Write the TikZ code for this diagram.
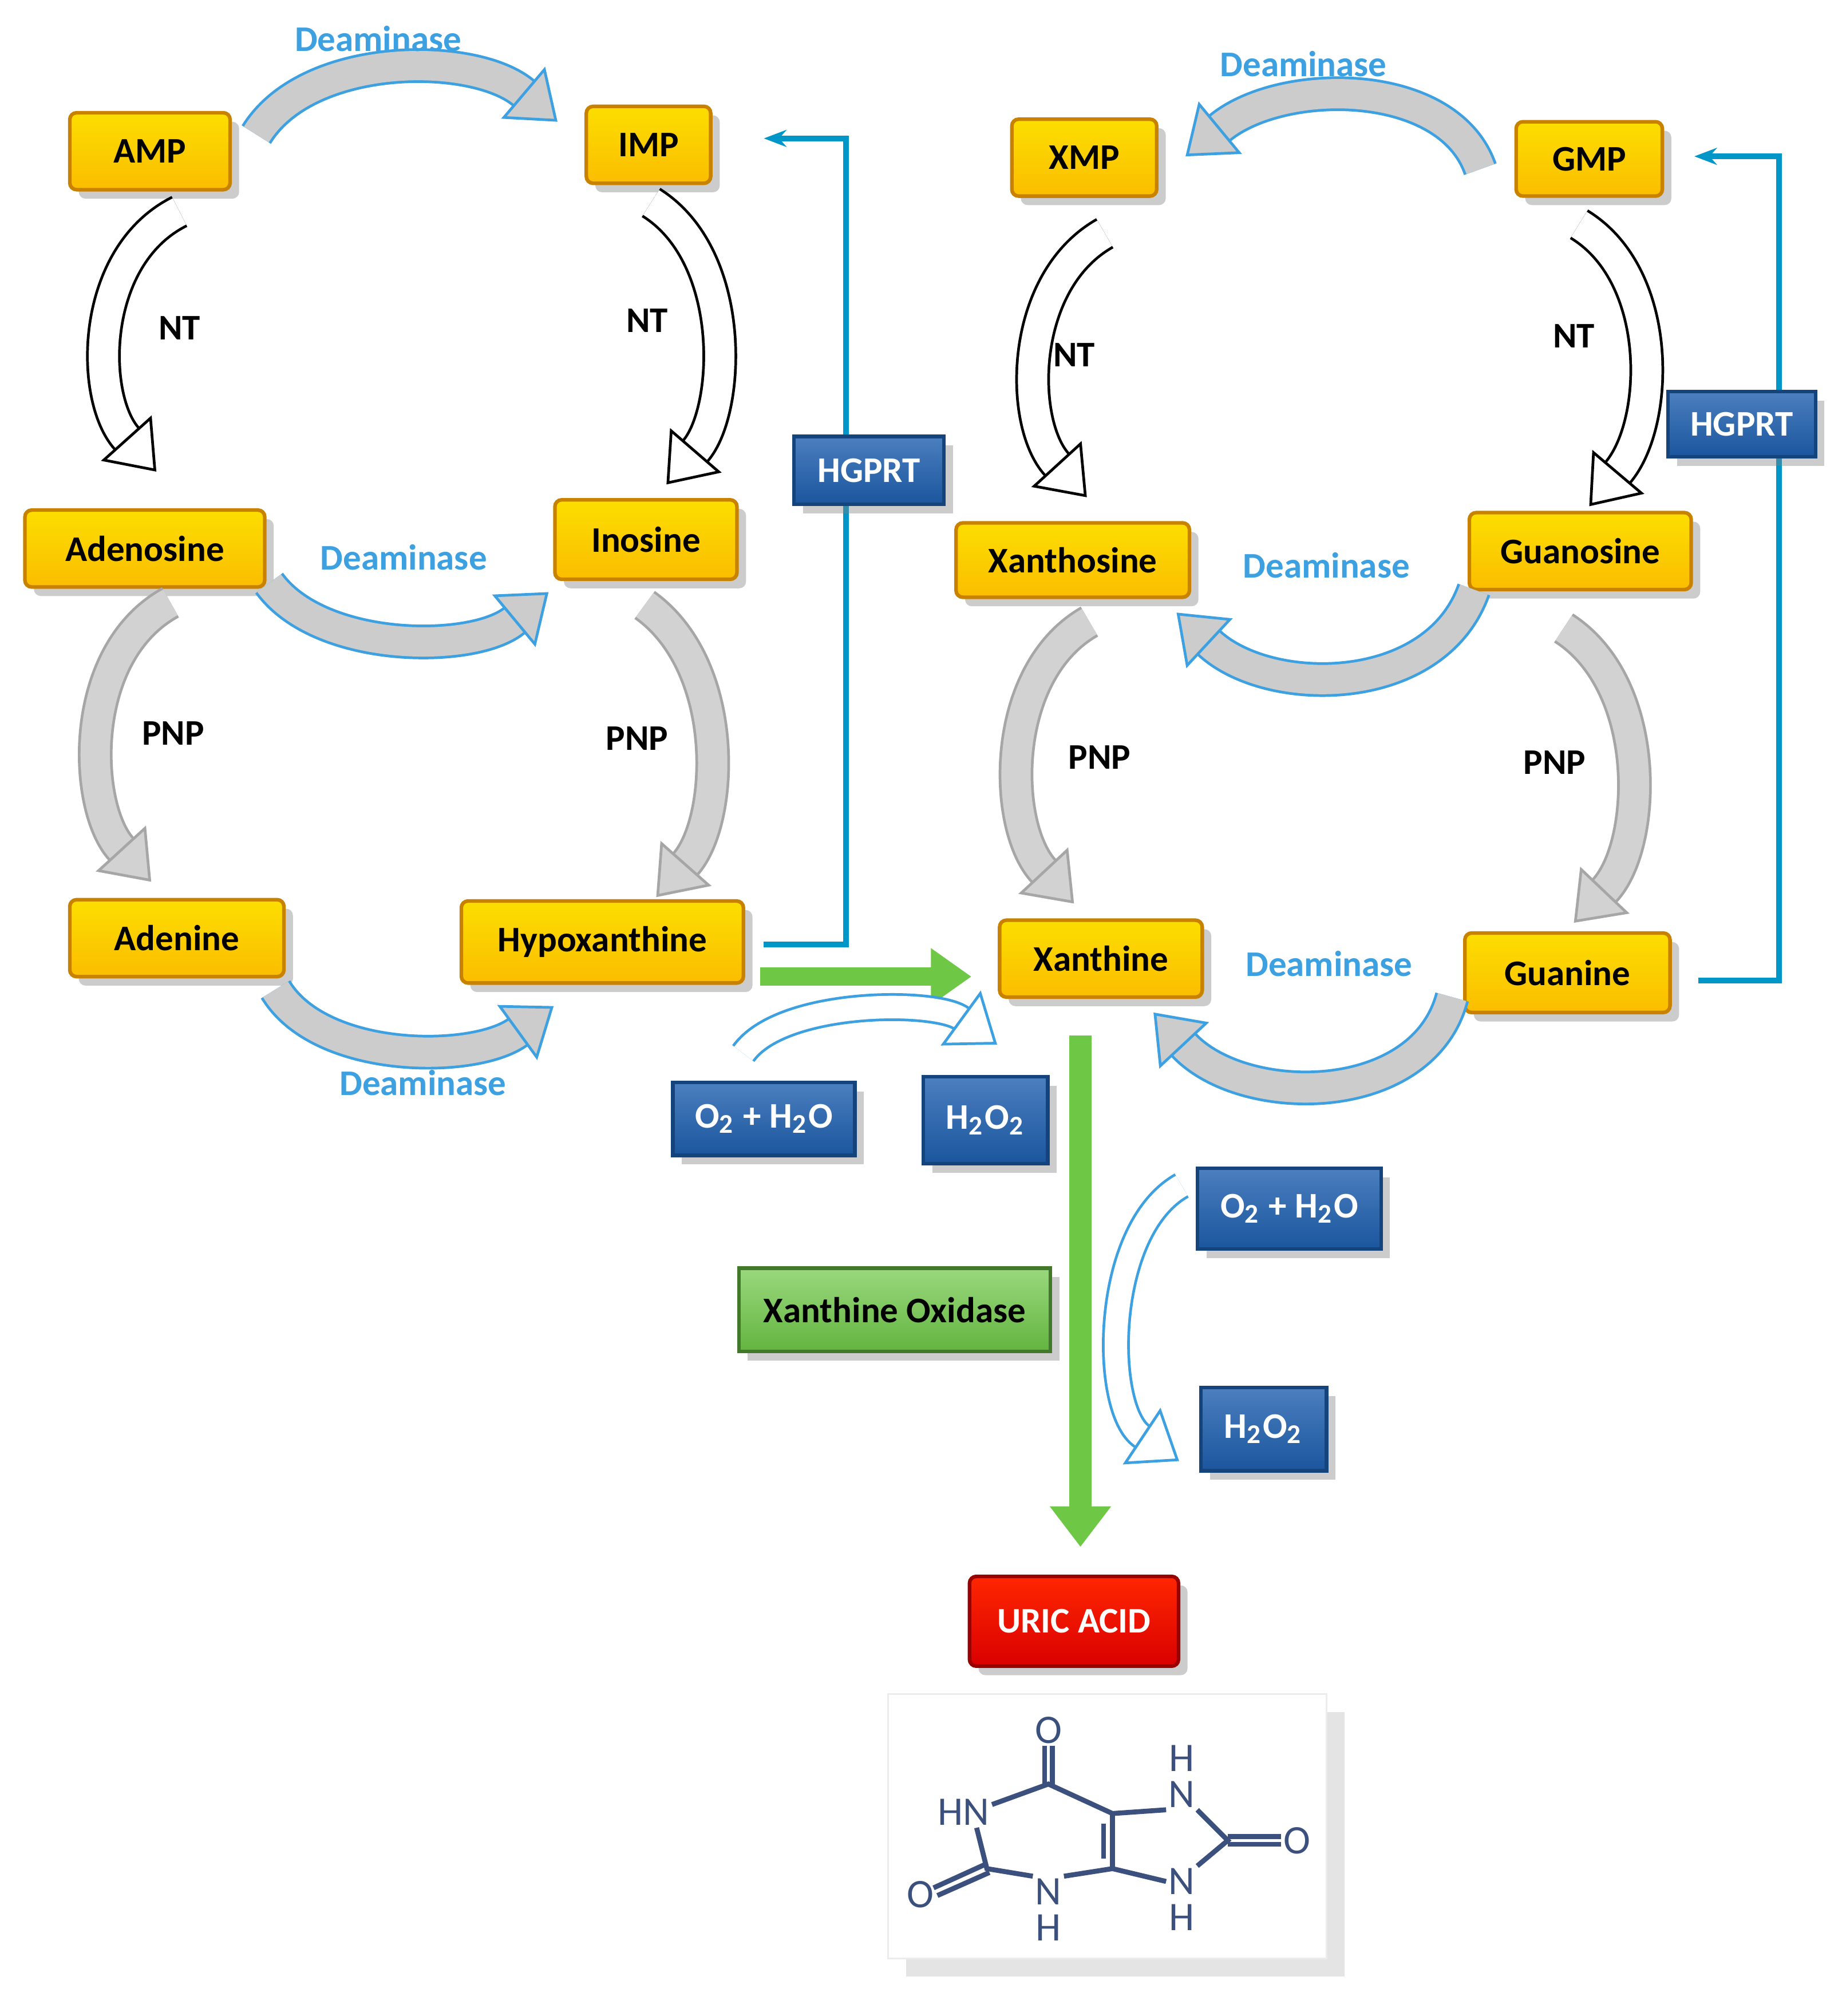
\documentclass[tikz,border=0pt]{standalone}
\usepackage{fontspec}
\setmainfont{Carlito}
\usetikzlibrary{arrows.meta,shadows,calc}
\definecolor{deam}{RGB}{60,160,225}
\definecolor{hg}{RGB}{0,150,200}
\definecolor{ybox}{RGB}{250,200,0}
\definecolor{yedge}{RGB}{200,130,0}
\definecolor{bbox}{RGB}{30,95,175}
\definecolor{gbox}{RGB}{110,200,70}
\definecolor{mol}{RGB}{60,80,125}
\begin{document}
\begin{tikzpicture}[x=0.01cm,y=-0.01cm,
 every node/.style={font=\fontsize{8}{9}\selectfont\bfseries},
 ybx/.style={draw=yedge,line width=0.8pt,rounded corners=1.5pt,top color=ybox!60!yellow,bottom color=ybox!85!orange,
   drop shadow={shadow xshift=2pt,shadow yshift=-2pt,opacity=0.4},inner sep=0pt,text=black},
 bbx/.style={draw=bbox!70!black,line width=0.8pt,top color=bbox!80!white,bottom color=bbox!90!black,text=white,
   drop shadow={shadow xshift=2pt,shadow yshift=-2pt,opacity=0.4},inner sep=0pt},
 dlab/.style={text=deam,font=\fontsize{8}{9}\selectfont\bfseries},
 fat/.style={line width=0.6pt,double=#1,double distance=6.5pt,-{Triangle[length=10pt,width=15pt,fill=#1]}},
 hgl/.style={draw=hg,line width=1.2pt,-{Stealth[length=5pt]}}]
\useasboundingbox (0,0) rectangle (1440,1573);
% HGPRT lines (behind boxes)
\coordinate (h1a) at (596,737); \coordinate (h1b) at (660,737); \coordinate (h1c) at (660,108); \coordinate (h1d) at (596,108);
\draw[hgl] (h1a) -- (h1b) -- (h1c) -- (h1d);
\coordinate (h2a) at (1325,765); \coordinate (h2b) at (1388,765); \coordinate (h2c) at (1388,122); \coordinate (h2d) at (1322,122);
\draw[hgl] (h2a) -- (h2b) -- (h2c) -- (h2d);
% yellow boxes
\node[ybx,minimum width=1.25cm,minimum height=0.6cm] (amp) at (117,118) {AMP};
\node[ybx,minimum width=0.97cm,minimum height=0.6cm] (imp) at (506,113) {IMP};
\node[ybx,minimum width=1.13cm,minimum height=0.6cm] (xmp) at (846,123) {XMP};
\node[ybx,minimum width=1.14cm,minimum height=0.58cm] (gmp) at (1240,124) {GMP};
\node[ybx,minimum width=1.87cm,minimum height=0.6cm] (adenosine) at (113,428) {Adenosine};
\node[ybx,minimum width=1.42cm,minimum height=0.62cm] (inosine) at (504,421) {Inosine};
\node[ybx,minimum width=1.82cm,minimum height=0.58cm] (xanthosine) at (837,437) {Xanthosine};
\node[ybx,minimum width=1.73cm,minimum height=0.6cm] (guanosine) at (1233,430) {Guanosine};
\node[ybx,minimum width=1.67cm,minimum height=0.6cm] (adenine) at (138,732) {Adenine};
\node[ybx,minimum width=2.2cm,minimum height=0.64cm] (hypox) at (470,735) {Hypoxanthine};
\node[ybx,minimum width=1.58cm,minimum height=0.6cm] (xanthine) at (859,748) {Xanthine};
\node[ybx,minimum width=1.6cm,minimum height=0.62cm] (guanine) at (1223,759) {Guanine};
% blue boxes
\node[bbx,minimum width=1.17cm,minimum height=0.53cm] (hg1) at (678,367) {HGPRT};
\node[bbx,minimum width=1.15cm,minimum height=0.51cm] (hg2) at (1359,331) {HGPRT};
\node[bbx,minimum width=1.42cm,minimum height=0.57cm] (o1) at (596,873) {O\textsubscript{2} + H\textsubscript{2}O};
\node[bbx,minimum width=0.97cm,minimum height=0.68cm] (p1) at (769,874) {H\textsubscript{2}O\textsubscript{2}};
\node[bbx,minimum width=1.43cm,minimum height=0.63cm] (o2) at (1006,943) {O\textsubscript{2} + H\textsubscript{2}O};
\node[bbx,minimum width=0.98cm,minimum height=0.65cm] (p2) at (986,1115) {H\textsubscript{2}O\textsubscript{2}};
\node[draw=gbox!60!black,line width=0.8pt,top color=gbox!70!white,bottom color=gbox!90!black,minimum width=2.43cm,minimum height=0.65cm,inner sep=0pt,
  drop shadow={shadow xshift=2pt,shadow yshift=-2pt,opacity=0.4}] (xo) at (698,1022) {Xanthine Oxidase};
\node[draw=red!60!black,line width=0.8pt,top color=red!70!orange,bottom color=red!85!black,text=white,minimum width=1.63cm,minimum height=0.7cm,inner sep=0pt,rounded corners=1.5pt,
  drop shadow={shadow xshift=2pt,shadow yshift=-2pt,opacity=0.4}] (uric) at (838,1265) {URIC ACID};
% green arrows
\coordinate (g1a) at (593,762); \coordinate (g1b) at (758,762);
\draw[gbox,line width=4pt,-{Triangle[length=9pt,width=12pt]}] (g1a) -- (g1b);
\coordinate (g2a) at (843,808); \coordinate (g2b) at (843,1207);
\draw[gbox,line width=5pt,-{Triangle[length=9pt,width=13pt]}] (g2a) -- (g2b);
% deaminase arrows
\draw[fat=gray!40,draw=deam] (200,105) .. controls (240,40) and (370,40) .. (435,95);
\node[dlab] (d1) at (295,30) {Deaminase};
\draw[fat=gray!40,draw=deam] (1155,132) .. controls (1130,60) and (1000,60) .. (925,122);
\node[dlab] (d2) at (1017,50) {Deaminase};
\draw[fat=gray!40,draw=deam] (210,455) .. controls (250,510) and (370,510) .. (428,462);
\node[dlab] (d3) at (315,435) {Deaminase};
\draw[fat=gray!40,draw=deam] (1150,460) .. controls (1120,545) and (990,545) .. (918,478);
\node[dlab] (d4) at (1035,441) {Deaminase};
\draw[fat=gray!40,draw=deam] (215,772) .. controls (250,830) and (370,830) .. (432,785);
\node[dlab] (d5) at (330,845) {Deaminase};
\draw[fat=gray!40,draw=deam] (1133,778) .. controls (1110,865) and (970,865) .. (900,790);
\node[dlab] (d6) at (1037,752) {Deaminase};
% NT arrows
\draw[fat=white,draw=black] (140,165) .. controls (70,200) and (70,310) .. (122,368);
\node (nt1) at (140,256) {NT};
\draw[fat=white,draw=black] (508,158) .. controls (575,200) and (570,320) .. (520,378);
\node (nt2) at (505,250) {NT};
\draw[fat=white,draw=black] (862,182) .. controls (795,220) and (795,330) .. (848,388);
\node (nt3) at (838,277) {NT};
\draw[fat=white,draw=black] (1232,175) .. controls (1298,215) and (1295,330) .. (1240,395);
\node (nt4) at (1228,262) {NT};
% PNP arrows
\draw[fat=gray!35,draw=gray!70] (133,470) .. controls (60,510) and (65,630) .. (118,688);
\node (pnp1) at (135,572) {PNP};
\draw[fat=gray!35,draw=gray!70] (503,472) .. controls (570,520) and (565,640) .. (512,700);
\node (pnp2) at (497,576) {PNP};
\draw[fat=gray!35,draw=gray!70] (850,485) .. controls (780,525) and (782,645) .. (838,705);
\node (pnp3) at (858,591) {PNP};
\draw[fat=gray!35,draw=gray!70] (1220,490) .. controls (1290,535) and (1285,660) .. (1228,720);
\node (pnp4) at (1213,595) {PNP};
% O2 -> H2O2 arcs
\draw[fat=white,draw=deam,double distance=5pt] (580,822) .. controls (610,780) and (730,780) .. (778,815);
\draw[fat=white,draw=deam,double distance=5pt] (922,925) .. controls (860,960) and (860,1100) .. (920,1140);
% uric acid structure
\node[fill=white,draw=gray!15,minimum width=3.42cm,minimum height=2.06cm,inner sep=0pt,
  drop shadow={shadow xshift=4pt,shadow yshift=-4pt,opacity=0.35,fill=gray!60}] (molbox) at (864,1425) {};
\begin{scope}[mol,line width=1.1pt,every node/.style={font=\fontsize{9}{10}\selectfont,text=mol,inner sep=0pt}]
\node (O6) at (818,1350) {O};
\node (N1) at (752,1414) {HN};
\node (O2) at (718,1478) {O};
\node (N3) at (818,1476) {N};
\node (H3) at (818,1504) {H};
\node (N7) at (922,1400) {N};
\node (H7) at (922,1372) {H};
\node (O8) at (1012,1436) {O};
\node (N9) at (922,1468) {N};
\node (H9) at (922,1496) {H};
\coordinate (C6) at (818,1392);
\coordinate (C2) at (770,1458);
\coordinate (C5) at (868,1415);
\coordinate (C4) at (868,1458);
\coordinate (C8) at (958,1436);
\draw (N1.east) ++(0,-6) -- (C6) -- (C5) -- (N7.south west);
\draw (C5) -- (C4) -- (N9.west);
\draw ($(C5)+(-7,8)$) -- ($(C4)+(-7,-8)$);
\draw (C4) -- (N3.north east);
\draw (N3.north west) -- (C2) -- ($(N1.south)+(10,0)$);
\draw ($(C6)+(-3,0)$) -- ($(O6.south)+(-3,0)$);
\draw ($(C6)+(3,0)$) -- ($(O6.south)+(3,0)$);
\draw ($(C2)+(-2,-3)$) -- ($(O2.east)+(-2,-5)$);
\draw ($(C2)+(2,3)$) -- ($(O2.east)+(1,1)$);
\draw (N7.south east) -- (C8) -- (N9.north east);
\draw ($(C8)+(0,-3)$) -- ($(O8.west)+(0,-3)$);
\draw ($(C8)+(0,3)$) -- ($(O8.west)+(0,3)$);
\end{scope}
\end{tikzpicture}
\end{document}
